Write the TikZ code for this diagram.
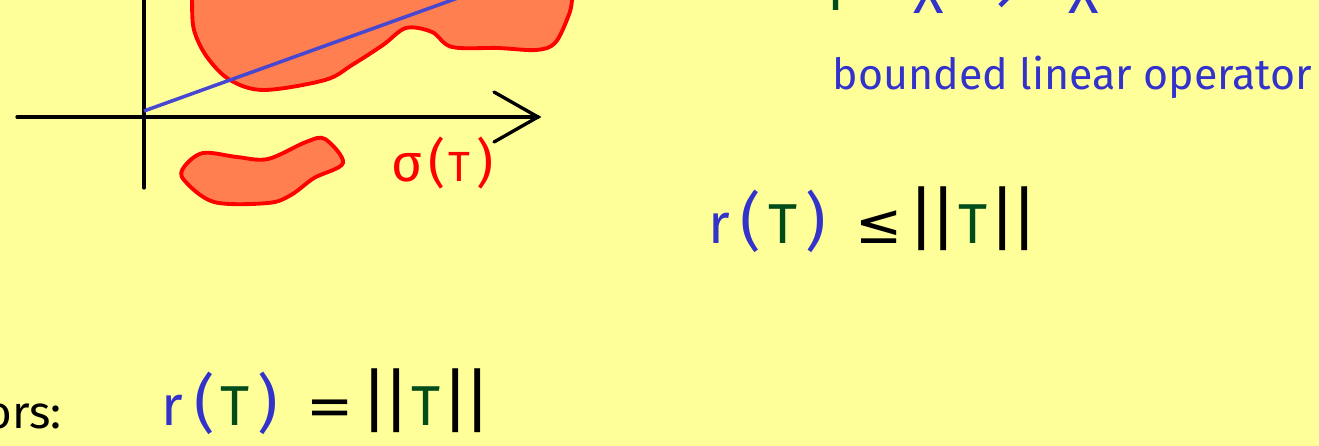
\documentclass[tikz,border=0pt]{standalone}
\usepackage{fontspec}
\setmainfont{Fira Sans}
\newfontfamily\symfont{DejaVu Sans}
\definecolor{paper}{HTML}{FFFF99}
\definecolor{inkblue}{HTML}{3333CC}
\definecolor{inkgreen}{HTML}{004D1A}
\definecolor{blobfill}{HTML}{FF7F50}
\newcommand\paren[1]{{\fontsize{18}{18}\selectfont #1}}
\newcommand\normbar{{\fontsize{20}{20}\selectfont|\kern-1.8pt|}}
\begin{document}
\begin{tikzpicture}[x=0.01cm,y=-0.01cm,
  axis/.style={black,line width=0.95pt,line cap=round},
  blob/.style={draw=red,fill=blobfill,line width=1.1pt},
  glyph/.style={inner sep=0pt,anchor=base,font=\fontsize{16}{16}\selectfont}]
  \useasboundingbox (0,0) rectangle (1319,446);
  \fill[paper] (0,0) rectangle (1319,446);
  \clip (0,0) rectangle (1319,446);
  % spectrum
  \draw[blob] plot[smooth cycle,tension=0.55] coordinates {(192,-30) (192,0)
    (194,30) (207,57) (230,80) (264,90) (325,80) (352,65) (383,45) (406,28)
    (432,32) (452,47) (498,48) (536,50) (555,43) (568,17) (572,0) (572,-30)};
  \draw[blob] plot[smooth cycle,tension=0.55] coordinates {(184,167) (203,153)
    (237,157) (268,159) (306,142) (325,139) (343,163) (314,178) (291,195)
    (268,203) (214,202) (184,180)};
  % axes
  \draw[axis] (144,-10) -- (144,188);
  \draw[axis] (17,117) -- (538,117);
  \draw[axis] (494,92) -- (538,117) -- (494,142);
  \draw[color=inkblue!90!white,line width=1pt] (144,111) -- (480,-10);
  % sigma(T)
  \foreach \g/\x/\s [count=\i] in {{σ}/407/15,{(}/437/15,{T}/459/12,{)}/485/15}
    \node[glyph,red,font=\fontsize{\s}{\s}\selectfont] (sig\i) at (\x,182) {\g};
  % cut-off line at the top
  \node[glyph,text=inkgreen] (topT) at (836,11) {T};
  \foreach \g/\x [count=\i] in {{X}/929,{\symfont →}/992,{X}/1084}
    \node[glyph,text=inkblue] (topX\i) at (\x,14) {\g};
  \node[inner sep=0pt,anchor=base west,text=inkblue,font=\fontsize{12.2}{12}\selectfont]
    (bounded) at (832,90) {bounded linear operator};
  % r(T) <= ||T||
  \foreach \g/\x/\c [count=\i] in {{r}/719/inkblue,{\paren{(}}/751/inkblue,
      {T}/783/inkgreen,{\paren{)}}/816/inkblue,{\symfont ≤}/879/black,
      {\normbar}/933/black,{T}/973/inkgreen,{\normbar}/1014/black}
    \node[glyph,text=\c] (ineq\i) at (\x,244) {\g};
  % r(T) = ||T||
  \node[inner sep=0pt,anchor=base east,font=\fontsize{13}{13}\selectfont]
    (ors) at (62,428) {ors:};
  \foreach \g/\x/\c [count=\i] in {{r}/172/inkblue,{\paren{(}}/205/inkblue,
      {T}/235/inkgreen,{\paren{)}}/268/inkblue,{\symfont =}/330/black,
      {\normbar}/386/black,{T}/426/inkgreen,{\normbar}/467/black}
    \node[glyph,text=\c] (eq\i) at (\x,425) {\g};
\end{tikzpicture}
\end{document}
